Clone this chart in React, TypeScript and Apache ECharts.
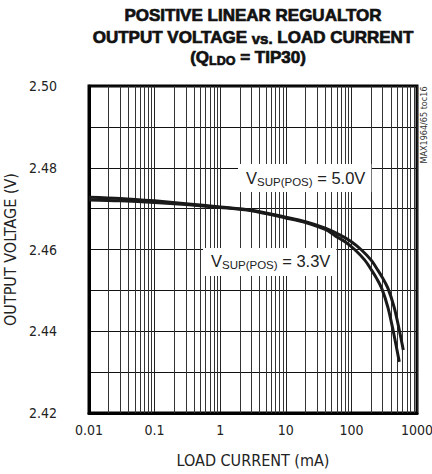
import React, { useEffect, useRef } from 'react';
import * as echarts from 'echarts';

// ---- data ----
const X_TICK_LABELS = ['0.01', '0.1', '1', '10', '100', '1000'];
const Y_MIN = 2.42;
const Y_MAX = 2.5;
const Y_STEP = 0.01;

const CURRENT_5V = [0.01, 0.03, 0.1, 0.3, 1, 3, 10, 20, 40, 70, 100, 140, 200, 254, 300, 361, 450, 537, 618];
const VOUT_5V = [2.4728, 2.4725, 2.4719, 2.4712, 2.4704, 2.4696, 2.4679, 2.4668, 2.4652, 2.4634, 2.4619, 2.46, 2.4574, 2.4549, 2.453, 2.4505, 2.4458, 2.4403, 2.4354];

const CURRENT_33V = [0.01, 0.03, 0.1, 0.3, 1, 3, 10, 20, 40, 56, 80, 112, 160, 204, 241, 290, 361, 431, 537];
const VOUT_33V = [2.4721, 2.4719, 2.4715, 2.471, 2.4703, 2.4695, 2.4677, 2.4666, 2.4649, 2.4634, 2.4619, 2.46, 2.4574, 2.4549, 2.453, 2.4505, 2.4458, 2.4403, 2.4325];

const MINOR_DECADES = [0.01, 0.1, 1, 10, 100];
const MINOR_MULTS = [2, 3, 4, 5, 6, 7, 8, 9];

const NARROW = "'Liberation Sans Narrow', 'DejaVu Sans Condensed', 'Liberation Sans', sans-serif";
const REGULAR = "'Liberation Sans', Arial, sans-serif";

type Seg = { t: string; size: number; dy?: number; bold?: boolean; family?: string };

let measureCtx: CanvasRenderingContext2D | null = null;
function measure(text: string, size: number, bold: boolean, family: string) {
  if (!measureCtx) measureCtx = document.createElement('canvas').getContext('2d');
  if (!measureCtx) return text.length * size * 0.55;
  measureCtx.font = `${bold ? 'bold ' : ''}${size}px ${family}`;
  return measureCtx.measureText(text).width;
}

function segTexts(x0: number, baseline: number, segs: Seg[], align: 'left' | 'center', color = '#111', heavy = false) {
  const widths = segs.map((s) => measure(s.t, s.size, !!s.bold, s.family || REGULAR));
  const total = widths.reduce((a, b) => a + b, 0);
  let x = align === 'center' ? x0 - total / 2 : x0;
  const els: any[] = [];
  segs.forEach((s, i) => {
    els.push({
      type: 'text',
      x,
      y: baseline + (s.dy || 0) - 0.35 * s.size,
      z: 60,
      silent: true,
      style: {
        text: s.t,
        fontSize: s.size,
        fontFamily: s.family || REGULAR,
        fontWeight: s.bold ? 'bold' : 'normal',
        fill: color,
        stroke: heavy ? color : undefined,
        lineWidth: heavy ? 0.7 : 0,
        align: 'left',
        verticalAlign: 'middle',
      },
    });
    x += widths[i];
  });
  return { els, start: align === 'center' ? x0 - total / 2 : x0, end: x };
}

function curveLabel(x0: number, baseline: number, value: string, boxTop: number, boxH: number) {
  const r = segTexts(x0, baseline, [
    { t: 'V', size: 16.5 },
    { t: 'SUP(POS)', size: 11.5, dy: 3 },
    { t: ` = ${value}`, size: 16.5 },
  ], 'left', '#222');
  const rect = {
    type: 'rect',
    silent: true,
    z: 50,
    shape: { x: r.start - 8, y: boxTop, width: r.end - r.start + 14, height: boxH },
    style: { fill: '#fff' },
  };
  return [rect, ...r.els];
}

function xLabel(v: number) {
  const e = Math.round(Math.log10(v));
  const idx = e + 2;
  return X_TICK_LABELS[idx] ?? String(v);
}

export default function App() {
  const ref = useRef<HTMLDivElement>(null);
  useEffect(() => {
    if (!ref.current) return;
    const chart = echarts.init(ref.current, null, { renderer: 'svg' });

    const minorLines: any[] = [];
    MINOR_DECADES.forEach((d) => MINOR_MULTS.forEach((m) => minorLines.push({ xAxis: d * m })));

    const title1 = segTexts(253, 21.7, [{ t: 'POSITIVE LINEAR REGUALTOR', size: 17, bold: true }], 'center', '#111', true);
    const title2 = segTexts(253, 43.3, [
      { t: 'OUTPUT VOLTAGE ', size: 17, bold: true },
      { t: 'vs.', size: 15, bold: true },
      { t: ' LOAD CURRENT', size: 17, bold: true },
    ], 'center', '#111', true);
    const title3 = segTexts(248, 63.3, [
      { t: '(Q', size: 17, bold: true },
      { t: 'LDO', size: 12.5, bold: true, dy: 2.5 },
      { t: ' = TIP30)', size: 17, bold: true },
    ], 'center', '#111', true);

    const option: any = {
      animation: false,
      backgroundColor: '#fff',
      grid: {
        left: 89,
        top: 86,
        width: 328,
        height: 327,
        show: true,
        borderColor: '#000',
        borderWidth: 3,
        containLabel: false,
        outerBoundsMode: 'none',
      },
      xAxis: {
        type: 'log',
        logBase: 10,
        min: 0.01,
        max: 1000,
        name: 'LOAD CURRENT (mA)',
        nameLocation: 'middle',
        nameGap: 39,
        nameTextStyle: { fontFamily: NARROW, fontSize: 16, color: '#222' },
        axisLine: { show: true, lineStyle: { color: '#000', width: 3 } },
        axisTick: { show: false },
        axisLabel: { fontFamily: NARROW, fontSize: 14, color: '#222', margin: 10, formatter: xLabel },
        splitLine: { show: true, lineStyle: { color: '#222', width: 1 } },
      },
      yAxis: {
        type: 'value',
        min: Y_MIN,
        max: Y_MAX,
        interval: Y_STEP,
        name: 'OUTPUT VOLTAGE (V)',
        nameLocation: 'middle',
        nameGap: 64,
        nameTextStyle: { fontFamily: NARROW, fontSize: 16, color: '#222' },
        axisLine: { show: true, lineStyle: { color: '#000', width: 3 } },
        axisTick: { show: false },
        axisLabel: {
          fontFamily: NARROW,
          fontSize: 14,
          color: '#222',
          margin: 32,
          formatter: (v: number) => (Math.round(v * 100) % 2 === 0 ? v.toFixed(2) : ''),
        },
        splitLine: { show: true, lineStyle: { color: '#111', width: 1 } },
      },
      series: [
        {
          type: 'line',
          data: [],
          z: 1,
          silent: true,
          markLine: {
            silent: true,
            symbol: ['none', 'none'],
            label: { show: false },
            lineStyle: { color: '#333', width: 1, type: 'solid' },
            data: minorLines,
            animation: false,
          },
        },
        {
          name: 'VSUP(POS) = 5.0V',
          type: 'line',
          z: 5,
          showSymbol: false,
          smooth: 0.3,
          data: CURRENT_5V.map((c, i) => [c, VOUT_5V[i]]),
          lineStyle: { color: '#1a1a1a', width: 3 },
        },
        {
          name: 'VSUP(POS) = 3.3V',
          type: 'line',
          z: 5,
          showSymbol: false,
          smooth: 0.3,
          data: CURRENT_33V.map((c, i) => [c, VOUT_33V[i]]),
          lineStyle: { color: '#1a1a1a', width: 3 },
        },
      ],
      graphic: [
        ...title1.els,
        ...title2.els,
        ...title3.els,
        ...curveLabel(246, 183.3, '5.0V', 164, 28),
        ...curveLabel(211, 266.5, '3.3V', 248, 28),
        {
          type: 'text',
          x: 424,
          y: 125,
          z: 60,
          rotation: Math.PI / 2,
          silent: true,
          style: {
            text: 'MAX1964/65 toc16',
            fontSize: 9,
            fontFamily: NARROW,
            fill: '#333',
            align: 'center',
            verticalAlign: 'middle',
          },
        },
      ],
    };
    chart.setOption(option);
    return () => chart.dispose();
  }, []);
  return <div ref={ref} style={{ position: 'fixed', left: 0, top: 0, width: 432, height: 474 }} />;
}
